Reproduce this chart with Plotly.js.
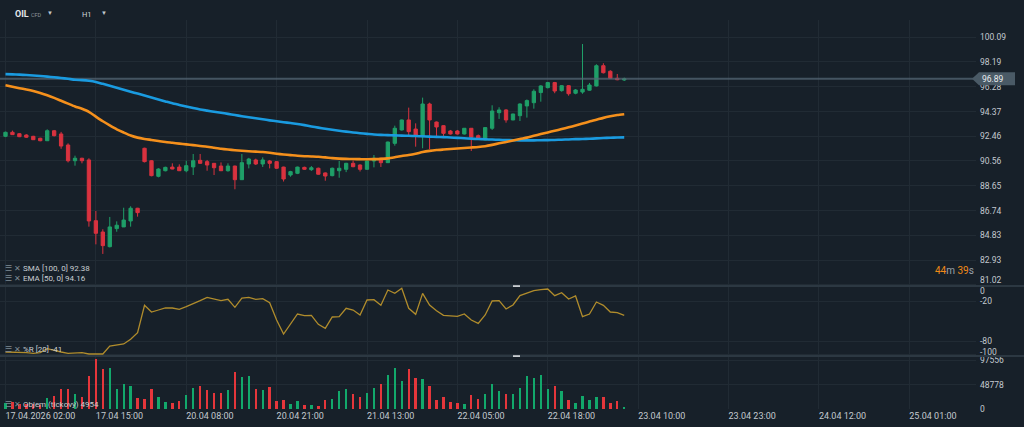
<!DOCTYPE html>
<html><head><meta charset="utf-8">
<script src="https://cdn.plot.ly/plotly-3.0.1.min.js"></script>
<style>html,body{margin:0;padding:0;background:#172029;overflow:hidden}#chart{width:1024px;height:427px}</style>
</head><body><div id="chart"></div>
<script>
// ---- data (hourly candles, index 0 = 17.04.2026 02:00) ----
const opens  = [92.46,92.77,92.66,92.56,92.46,92.31,92.12,92.89,92.64,91.79,
                90.58,90.77,90.64,85.96,85.09,83.96,85.35,85.48,85.94,86.92,
                91.54,90.58,89.38,89.81,90.09,90.09,89.81,90.10,90.61,90.51,
                90.38,90.17,89.81,90.17,89.12,90.33,90.64,90.33,90.56,90.51,
                90.09,89.48,89.61,90.07,89.89,90.00,89.64,89.43,89.81,89.92,
                90.38,90.25,89.92,90.56,90.77,90.43,91.92,92.95,93.72,93.02,
                92.43,94.95,93.56,93.28,92.87,92.87,92.64,93.08,92.51,92.18,
                93.08,94.28,94.49,93.72,94.05,94.80,95.05,95.83,96.21,96.60,
                95.98,96.36,95.78,95.87,96.01,96.34,97.90,97.47,96.93,96.80];
const highs  = [92.82,92.90,92.70,92.62,92.50,92.35,93.00,92.95,92.80,91.92,
                90.97,90.81,90.77,86.71,85.30,86.25,85.91,86.96,87.07,86.95,
                91.58,90.62,90.00,90.12,90.38,90.30,90.58,91.10,91.10,90.64,
                90.40,90.45,90.38,90.20,91.10,90.80,90.74,90.84,90.64,90.55,
                90.12,89.80,90.12,90.12,90.17,90.05,89.68,90.05,90.56,90.42,
                90.60,90.30,90.60,91.02,90.80,92.05,93.28,93.75,94.67,93.46,
                95.44,95.05,93.60,93.32,92.95,92.95,93.10,93.10,92.60,93.15,
                94.85,94.70,94.55,94.20,95.00,95.30,96.08,96.40,96.65,96.65,
                96.40,96.40,96.10,99.57,96.57,98.01,98.09,97.55,97.26,96.98];
const lows   = [92.40,92.57,92.40,92.33,92.18,92.08,92.10,92.45,91.50,90.45,
                90.20,90.38,85.50,84.14,83.40,83.90,85.11,85.48,85.50,86.27,
                90.45,89.38,89.30,89.76,89.92,89.79,89.69,89.48,90.35,89.81,
                89.48,89.79,89.74,88.38,89.10,89.99,90.25,90.10,89.99,89.95,
                88.98,89.35,89.55,89.88,89.80,89.50,89.04,89.38,89.27,89.70,
                90.08,89.75,89.88,90.07,90.10,90.40,91.74,92.90,92.43,91.66,
                91.54,91.48,92.49,92.49,92.60,92.60,92.60,91.33,92.25,92.15,
                92.95,93.80,93.51,93.70,93.64,93.90,94.59,95.13,96.15,95.78,
                95.90,95.59,95.70,95.74,95.98,96.30,97.30,96.88,96.78,96.72];
const closes = [92.77,92.59,92.43,92.39,92.20,92.12,92.89,92.51,91.71,90.58,
                90.77,90.58,85.94,84.99,84.04,85.48,85.61,86.01,86.92,86.58,
                90.51,89.43,89.94,90.07,89.94,89.81,90.20,90.58,90.38,90.25,
                90.04,89.81,90.17,89.12,90.43,90.71,90.33,90.64,90.38,90.00,
                89.17,89.74,90.09,89.92,90.04,89.54,89.40,90.00,90.00,90.38,
                90.12,89.92,90.56,90.77,90.43,92.02,93.08,93.72,92.82,92.49,
                94.95,93.72,93.18,92.69,92.64,92.64,93.08,92.39,92.31,93.13,
                94.41,94.49,93.72,94.18,94.95,95.21,95.93,96.34,96.60,95.95,
                96.36,95.74,96.03,96.08,96.41,97.90,97.36,96.93,96.82,96.89];
const volumes = [12000,14000,10700,10700,10700,7300,22000,26000,39400,39400,
                 30700,24000,65400,99400,80700,82700,40700,49400,45400,22000,
                 20700,39400,23300,14000,12000,16700,27300,42000,45400,37400,
                 32000,32000,37400,73400,63400,66700,39400,38700,43400,15300,
                 17300,10700,15300,8000,7300,5300,17300,19300,36000,39400,
                 29400,24000,32000,42000,49400,67400,82000,55400,79400,62000,
                 59400,46700,18700,23300,14000,12000,9300,27300,20700,30700,
                 50700,36000,30700,29400,42000,65400,62700,67400,39400,46700,
                 36000,18700,12000,26000,17300,23300,23300,12000,16000,4954];
const sma100 = [97.25,97.23,97.21,97.18,97.15,97.11,97.06,97.01,96.95,96.89,
                96.82,96.79,96.74,96.65,96.50,96.35,96.20,96.05,95.90,95.75,
                95.60,95.45,95.30,95.15,95.00,94.88,94.76,94.64,94.53,94.44,
                94.35,94.27,94.19,94.10,94.01,93.93,93.85,93.77,93.69,93.62,
                93.55,93.48,93.41,93.32,93.22,93.13,93.04,92.96,92.89,92.82,
                92.76,92.70,92.65,92.60,92.57,92.55,92.53,92.51,92.50,92.48,
                92.46,92.44,92.42,92.40,92.37,92.34,92.31,92.28,92.25,92.23,
                92.21,92.19,92.17,92.16,92.15,92.15,92.15,92.16,92.17,92.18,
                92.20,92.22,92.24,92.25,92.27,92.30,92.33,92.35,92.37,92.38];
const ema50  = [96.40,96.28,96.17,96.07,95.95,95.80,95.62,95.42,95.20,94.98,
                94.76,94.58,94.35,93.98,93.62,93.30,93.00,92.75,92.52,92.36,
                92.26,92.18,92.10,92.02,91.96,91.90,91.84,91.78,91.72,91.66,
                91.58,91.50,91.44,91.39,91.35,91.31,91.28,91.25,91.19,91.12,
                91.06,91.01,90.96,90.93,90.91,90.89,90.84,90.78,90.74,90.72,
                90.71,90.70,90.69,90.70,90.72,90.76,90.85,90.95,91.02,91.12,
                91.25,91.34,91.40,91.44,91.48,91.52,91.56,91.60,91.64,91.70,
                91.80,91.92,92.02,92.13,92.25,92.36,92.50,92.63,92.76,92.89,
                93.02,93.15,93.29,93.44,93.60,93.74,93.88,94.00,94.10,94.16];
const williamsR = [-96,-96,-97,-97,-98,-97,-91,-94,-96,-98,
                   -98,-97,-99,-99,-99,-87,-86,-84,-77,-67,
                   -26,-36,-33,-30,-30,-32,-28,-24,-19,-14,
                   -16,-19,-17,-29,-15,-14,-17,-16,-22,-48,
                   -69,-54,-39,-41.5,-41,-54.5,-60.5,-43.5,-43,-30.5,
                   -33,-40.5,-18,-17.5,-26,-3,-8,-0.5,-30.5,-39.5,
                   -8,-25.5,-34,-41,-41.5,-42.5,-39,-48,-53,-40.5,
                   -19.5,-19,-31.5,-25.5,-11.5,-8,-4,-2.5,-1.5,-11.5,
                   -7,-16.5,-12,-43,-39,-21,-26,-36,-37,-41];
const timeLabels = ["17.04.2026 02:00","17.04 15:00","20.04 08:00","20.04 21:00","21.04 13:00",
                    "22.04 05:00","22.04 18:00","23.04 10:00","23.04 23:00","24.04 12:00","25.04 01:00"];
const labelStep = 13;
const priceTicks = [81.02,82.93,84.83,86.74,88.65,90.56,92.46,94.37,96.28,98.19,100.09];
const wrTicks = [0,-20,-80,-100];
const volTicks = [0,48778,97556];
const lastPrice = 96.89;
const smaLast = 92.38, emaLast = 94.16, wrLast = -41, volLast = 4954;
const countdown = ["44","m ","39","s"];

// ---- styling ----
const BG = '#172029', GRID = '#212b34', TXT = '#c3c9cf', DIM = '#7f8a93';
const UP = '#1f9f68', DN = '#d9323f', VUP = '#12a86b', VDN = '#e5363b';
const FONT = 'Roboto, "Noto Sans", sans-serif';
const W = 1024, H = 427, ML = 0, MR = 48, MT = 20, MB = 18;
const PW = W - ML - MR, PH = H - MT - MB;
const px = x => (x - ML) / PW;
const py = y => (H - MB - y) / PH;

const idx = opens.map((_, i) => i);
const xRange = [-0.79, 139.6];
const priceDom = [py(286), 1], wrDom = [py(356), py(287)], volDom = [0, py(357)];
const priceRange = [80.93, 101.42], wrRange = [-102, 1.5], volRange = [0, 104000];

const traces = [
  {type:'scatter', mode:'lines', x:xRange, y:[lastPrice,lastPrice], xaxis:'x', yaxis:'y',
   line:{color:'rgba(84,102,116,0.75)', width:2}, hoverinfo:'skip'},
  {type:'candlestick', x:idx, open:opens, high:highs, low:lows, close:closes, xaxis:'x', yaxis:'y',
   increasing:{line:{color:UP, width:1}, fillcolor:UP},
   decreasing:{line:{color:DN, width:1}, fillcolor:DN},
   whiskerwidth:0, hoverinfo:'skip'},
  {type:'scatter', mode:'lines', x:idx, y:sma100, xaxis:'x', yaxis:'y',
   line:{color:'#1a9be0', width:2.6, shape:'spline', smoothing:0.6}, hoverinfo:'skip'},
  {type:'scatter', mode:'lines', x:idx, y:ema50, xaxis:'x', yaxis:'y',
   line:{color:'#f5901c', width:2.6, shape:'spline', smoothing:0.6}, hoverinfo:'skip'},
  {type:'scatter', mode:'lines', x:idx, y:williamsR, xaxis:'x', yaxis:'y2',
   line:{color:'#b08c2c', width:1.3}, hoverinfo:'skip'},
  {type:'bar', x:idx, y:volumes, xaxis:'x', yaxis:'y3', width:0.34,
   marker:{color: idx.map(i => closes[i] >= opens[i] ? VUP : VDN), line:{width:0}}, hoverinfo:'skip'}
];

const yBase = {side:'right', anchor:'x', showgrid:true, gridcolor:GRID, gridwidth:1, zeroline:false,
  showline:false, ticks:'', ticklabelstandoff:3, tickfont:{family:FONT, size:8.5, color:TXT}, fixedrange:true};

// edge labels that the reference nudges away from the panel borders are drawn as text beside their tick
const edgeLabels = [[priceTicks[0].toFixed(2), 280], [String(wrTicks[0]), 291], [String(wrTicks[3]), 351.5]];
const fmt = t => (Number.isInteger(t) ? String(t) : t.toFixed(2));

const frac = (v, r, d) => d[0] + (v - r[0]) / (r[1] - r[0]) * (d[1] - d[0]);
const tagY = frac(lastPrice, priceRange, priceDom);
const tagH = 6.5 / PH;

const ann = (x, y, text, size, color, extra) => Object.assign({xref:'paper', yref:'paper', x:px(x), y:py(y),
  text, showarrow:false, xanchor:'left', yanchor:'middle', font:{family:FONT, size, color}}, extra || {});
const icon = '<span style="color:' + DIM + '">☰ ✕</span> ';

const layout = {
  width:W, height:H, margin:{l:ML, r:MR, t:MT, b:MB, pad:0},
  paper_bgcolor:BG, plot_bgcolor:BG, showlegend:false, boxgap:0.32, bargap:0,
  xaxis:{range:xRange, anchor:'y3', showgrid:true, gridcolor:GRID, zeroline:false, showline:false, ticks:'',
    tickvals: timeLabels.map((_, k) => k * labelStep), ticktext: timeLabels,
    ticklabelposition:'outside right', tickfont:{family:FONT, size:9, color:TXT},
    rangeslider:{visible:false}, fixedrange:true},
  yaxis: Object.assign({}, yBase, {domain:priceDom, range:priceRange, tickvals:priceTicks,
    ticktext:priceTicks.map((t, k) => k === 0 ? '' : fmt(t))}),
  yaxis2: Object.assign({}, yBase, {domain:wrDom, range:wrRange, tickvals:wrTicks,
    ticktext:wrTicks.map((t, k) => (k === 0 || k === 3) ? '' : fmt(t))}),
  yaxis3: Object.assign({}, yBase, {domain:volDom, range:volRange, tickvals:volTicks, ticktext:volTicks.map(String)}),
  shapes:[
    {type:'line', xref:'paper', yref:'paper', x0:0, x1:W/PW, y0:py(286), y1:py(286), line:{color:'#2c3842', width:2}},
    {type:'line', xref:'paper', yref:'paper', x0:0, x1:W/PW, y0:py(356), y1:py(356), line:{color:'#2c3842', width:2}},
    {type:'rect', xref:'paper', yref:'paper', x0:px(513), x1:px(520), y0:py(287), y1:py(285.2), fillcolor:'#c9cdd1', line:{width:0}},
    {type:'rect', xref:'paper', yref:'paper', x0:px(513), x1:px(520), y0:py(357), y1:py(355.2), fillcolor:'#c9cdd1', line:{width:0}},
    {type:'path', xref:'paper', yref:'paper', fillcolor:'#4a5a66', line:{width:0},
     path:'M '+px(972)+' '+tagY+' L '+px(979)+' '+(tagY+tagH)+' L '+px(1015)+' '+(tagY+tagH)+
          ' L '+px(1015)+' '+(tagY-tagH)+' L '+px(979)+' '+(tagY-tagH)+' Z'}
  ],
  annotations:[
    ann(13, 14, '<b>OIL</b>', 9, '#e4e8eb'),
    ann(29, 14.5, 'CFD', 5.5, '#8a949c'),
    ann(45, 12.5, '▼', 6, '#c3c9cf'),
    ann(80, 14.5, 'H1', 7.5, '#d0d5d9'),
    ann(99, 12.5, '▼', 6, '#c3c9cf'),
    ann(3, 268, icon + 'SMA [100, 0] ' + smaLast.toFixed(2), 8, '#c9ced3'),
    ann(3, 278, icon + 'EMA [50, 0] ' + emaLast.toFixed(2), 8, '#c9ced3'),
    ann(3, 349, icon + '%R [20] ' + wrLast, 8, '#c9ced3'),
    ann(3, 404, icon + 'Objem (tickový) ' + volLast, 8, '#c9ced3'),
    ann(976, 270, '<span style="color:#f08a17">'+countdown[0]+'</span>'+countdown[1]+
        '<span style="color:#f08a17">'+countdown[2]+'</span>'+countdown[3], 10, '#9aa3ab', {xanchor:'right'})
  ].concat(edgeLabels.map(e => Object.assign(ann(979, e[1], e[0], 8.5, TXT), {borderpad:0}))).concat([
    {xref:'paper', yref:'paper', x:px(980), y:tagY, text:lastPrice.toFixed(2), showarrow:false,
     xanchor:'left', yanchor:'middle', font:{family:FONT, size:8.5, color:'#e8ecef'}}
  ])
};

Plotly.newPlot('chart', traces, layout, {staticPlot:true, displayModeBar:false});
</script></body></html>
